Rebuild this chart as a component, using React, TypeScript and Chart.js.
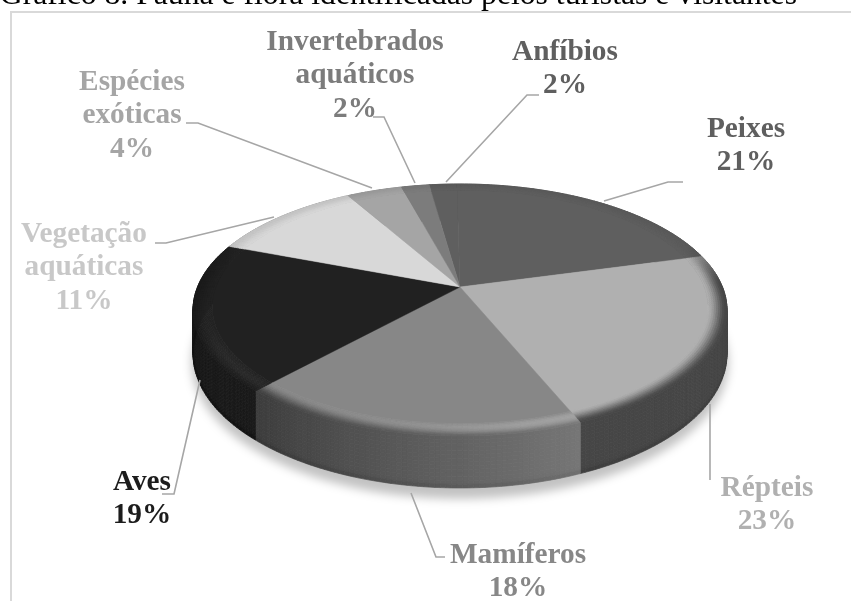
import React, { useEffect, useRef } from "react";
import { Chart, registerables } from "chart.js";

Chart.register(...registerables);

const categories = ["Anfíbios", "Peixes", "Répteis", "Mamíferos", "Aves", "Vegetação aquáticas", "Espécies exóticas", "Invertebrados aquáticos"];
const shares = [2, 21, 23, 18, 19, 11, 4, 2];
const labelLines = [["Anfíbios"], ["Peixes"], ["Répteis"], ["Mamíferos"], ["Aves"], ["Vegetação", "aquáticas"], ["Espécies", "exóticas"], ["Invertebrados", "aquáticos"]];
const chartTitle = "Gráfico 8. Fauna e flora identificadas pelos turistas e visitantes";

// Per-slice greys: top face, the two ends of the wall, rim highlight, label text.
const faceGreys = [95, 95, 176, 135, 33, 216, 165, 124];
const wallFrom = [70, 70, 70, 118, 26, 120, 110, 90];
const wallTo = [70, 70, 70, 60, 26, 120, 110, 90];
const rimHighlights = [0, 0, 0, 34, 10, 0, 0, 0];
const textGreys = [95, 95, 176, 135, 28, 200, 165, 124];

// Label block centres (first-line y) and leader polylines, in canvas pixels.
const labelAnchors = [[565, 52], [746, 129], [767, 488], [518, 555], [142, 482], [84, 234], [132, 82], [355, 42]];
const leaders = [
  [[539, 95], [527, 95], [446, 182]],
  [[683, 182], [668, 182], [604, 201]],
  [[710, 404], [710, 480]],
  [[411, 493], [436, 557], [445, 557]],
  [[200, 380], [174, 494], [162, 494]],
  [[155, 243], [166, 243], [274, 217]],
  [[186, 123], [198, 123], [372, 188]],
  [[373, 117], [384, 117], [415, 183]],
];

// Perspective of the tilted disc: the far side shrinks, the near side grows.
const PERSPECTIVE = 0.1825;
const FLATTEN = 0.464;
const WALL_DEPTH = 42.5;
const RIM_START = 0.93;

const grey = (g: number) => {
  const c = Math.max(0, Math.min(255, Math.round(g)));
  return `rgb(${c},${c},${c})`;
};
const smooth = (t: number) => t * t * (3 - 2 * t);
const clamp01 = (t: number) => Math.max(0, Math.min(1, t));

const tiltedPie = {
  id: "tiltedPie",
  beforeDatasetDraw(chart: any) {
    const { ctx } = chart;
    const arcs = chart.getDatasetMeta(0).data;
    const cx = arcs[0].x;
    const cy = arcs[0].y;
    const R = arcs[0].outerRadius;
    const project = (a: number, r: number, drop = 0) => {
      const u = Math.cos(a) * r;
      const v = Math.sin(a) * r;
      const w = 1 - PERSPECTIVE * v;
      return [cx + (R * u) / w, cy + (R * FLATTEN * v + drop) / w];
    };
    const quad = (a0: number, a1: number, r0: number, r1: number, d0: number, d1: number, fill: string) => {
      const pts = [project(a0, r0, d0), project(a1, r0, d0), project(a1, r1, d1), project(a0, r1, d1)];
      ctx.beginPath();
      pts.forEach(([x, y], i) => (i ? ctx.lineTo(x, y) : ctx.moveTo(x, y)));
      ctx.closePath();
      ctx.fillStyle = fill;
      ctx.strokeStyle = fill;
      ctx.lineWidth = 0.7;
      ctx.fill();
      ctx.stroke();
    };
    const STEP = Math.PI / 180;
    const wallGrey = (idx: number, f: number) => wallFrom[idx] + (wallTo[idx] - wallFrom[idx]) * f;

    ctx.save();

    // Soft shadow on the ground beneath the disc.
    ctx.save();
    ctx.filter = "blur(5px)";
    ctx.fillStyle = "rgba(0,0,0,0.24)";
    ctx.beginPath();
    for (let i = 0; i <= 180; i++) {
      const [x, y] = project((i / 180) * Math.PI * 2, 1.005, WALL_DEPTH + 8);
      i ? ctx.lineTo(x, y) : ctx.moveTo(x, y);
    }
    ctx.closePath();
    ctx.fill();
    ctx.restore();

    // Wall, built up from thin strips; rear portions get covered by the top face.
    const LAYERS = 14;
    arcs.forEach((arc: any, idx: number) => {
      const span = arc.endAngle - arc.startAngle;
      const n = Math.max(1, Math.ceil(span / STEP));
      for (let i = 0; i < n; i++) {
        const a0 = arc.startAngle + (span * i) / n;
        const a1 = arc.startAngle + (span * (i + 1)) / n;
        const base = wallGrey(idx, i / n);
        for (let l = 0; l < LAYERS; l++) {
          const t = (l + 0.5) / LAYERS;
          const edge = t > 0.88 ? -10 * (t - 0.88) / 0.12 : 0;
          quad(a0, a1, 1, 1, (WALL_DEPTH * l) / LAYERS, (WALL_DEPTH * (l + 1)) / LAYERS, grey(base + edge));
        }
      }
    });

    // Top face, whose rim rolls over into the wall colour.
    arcs.forEach((arc: any, idx: number) => {
      const span = arc.endAngle - arc.startAngle;
      const n = Math.max(2, Math.ceil(span / STEP));
      ctx.beginPath();
      ctx.moveTo(cx, cy);
      for (let i = 0; i <= n; i++) {
        const [x, y] = project(arc.startAngle + (span * i) / n, RIM_START);
        ctx.lineTo(x, y);
      }
      ctx.closePath();
      ctx.fillStyle = grey(faceGreys[idx]);
      ctx.strokeStyle = grey(faceGreys[idx]);
      ctx.lineWidth = 0.5;
      ctx.fill();
      ctx.stroke();
    });
    arcs.forEach((arc: any, idx: number) => {
      const span = arc.endAngle - arc.startAngle;
      const n = Math.max(2, Math.ceil(span / STEP));
      const RINGS = 9;
      for (let i = 0; i < n; i++) {
        const a0 = arc.startAngle + (span * i) / n;
        const a1 = arc.startAngle + (span * (i + 1)) / n;
        const s = Math.sin(a0);
        const front = smooth(clamp01((s + 0.4) / 0.4));
        const glow = rimHighlights[idx] * clamp01(1.15 - i / n) * clamp01(s * 2);
        for (let k = 0; k < RINGS; k++) {
          const t = (k + 0.5) / RINGS;
          const r0 = RIM_START + ((1 - RIM_START) * k) / RINGS;
          const r1 = RIM_START + ((1 - RIM_START) * (k + 1)) / RINGS;
          const target = wallGrey(idx, i / n);
          // Far side: only a faint darkening at the very edge.
          const mix = smooth(t) * (0.2 + 0.8 * front);
          const g = faceGreys[idx] + (target - faceGreys[idx]) * mix + glow * Math.sin(Math.PI * t);
          quad(a0, a1, r0, r1, 0, 0, grey(g));
        }
      }
    });
    ctx.restore();
    return false;
  },
  afterDraw(chart: any) {
    const { ctx, width, height } = chart;
    ctx.save();

    // Outer frame, running off the right and bottom of the page.
    ctx.strokeStyle = "#d9d9d9";
    ctx.lineWidth = 2;
    ctx.strokeRect(11, 12, width + 20, height + 20);

    // Heading, partly cut by the top of the page.
    ctx.fillStyle = "#000";
    ctx.font = '31.7px "Liberation Serif"';
    ctx.textAlign = "right";
    ctx.textBaseline = "alphabetic";
    ctx.fillText(chartTitle, 797, 4);

    // Leader lines.
    ctx.strokeStyle = "#a6a6a6";
    ctx.lineWidth = 1.6;
    leaders.forEach((line) => {
      ctx.beginPath();
      line.forEach(([x, y], i) => (i ? ctx.lineTo(x, y) : ctx.moveTo(x, y)));
      ctx.stroke();
    });

    // Slice names and percentages.
    ctx.font = 'bold 29.3px "Liberation Serif"';
    ctx.textAlign = "center";
    ctx.textBaseline = "middle";
    labelLines.forEach((lines, idx) => {
      const [x, y] = labelAnchors[idx];
      ctx.fillStyle = grey(textGreys[idx]);
      [...lines, `${shares[idx]}%`].forEach((text, i) => ctx.fillText(text, x, y + i * 33.5));
    });
    ctx.restore();
  },
};

export default function App() {
  const ref = useRef<HTMLCanvasElement>(null);
  useEffect(() => {
    document.body.style.margin = "0";
    const chart = new Chart(ref.current!, {
      type: "pie",
      data: { labels: categories, datasets: [{ data: shares, borderWidth: 0 }] },
      options: {
        responsive: false,
        animation: false,
        rotation: -8,
        layout: { padding: { left: 197.5, right: 128.5, top: 24.5, bottom: 51.5 } },
        plugins: { legend: { display: false }, tooltip: { enabled: false } },
      },
      plugins: [tiltedPie],
    });
    return () => chart.destroy();
  }, []);
  return <canvas ref={ref} width={851} height={601} style={{ display: "block", background: "#fff" }} />;
}
